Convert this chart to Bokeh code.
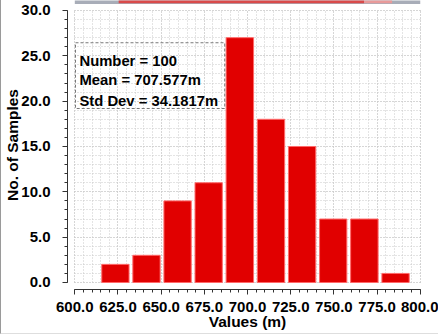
from bokeh.plotting import figure
from bokeh.models import (SingleIntervalTicker, NumeralTickFormatter, Label, Range1d)
from bokeh.embed import file_html
from bokeh.resources import INLINE

# ---- data ----
bin_edges = [614.5, 632.5, 650.5, 668.5, 686.5, 704.6, 722.6, 740.6, 758.6, 776.7, 794.7]
counts = [2, 3, 9, 11, 27, 18, 15, 7, 7, 1]
stats_lines = ["Number = 100", "Mean = 707.577m", "Std Dev = 34.1817m"]
x_label = "Values (m)"
y_label = "No. of Samples"

FONT = "Liberation Sans"
gap = 1.1  # half-gap between bars, data units

p = figure(width=438, height=334, output_backend="svg", toolbar_location=None,
           x_range=Range1d(595.77, 804.2), y_range=Range1d(-0.772, 31.1),
           min_border_left=65, min_border_right=12, min_border_top=0, min_border_bottom=45)
p.styles = {"border-left": "1px solid #9a9a9a", "border-bottom": "1px solid #dedede"}
p.outline_line_color = None
p.background_fill_color = "white"
p.border_fill_color = "white"

# cut-off element at the top
p.quad(left=[600], right=[800], bottom=[30.72], top=[31.2],
       fill_color="#a8adb8", line_color=None)
p.quad(left=[625.4], right=[767.5], bottom=[30.8], top=[31.2],
       fill_color="#d94a4a", line_color=None)
p.quad(left=[767.5], right=[783.7], bottom=[30.8], top=[31.2],
       fill_color="#e89a9a", line_color=None)

lefts = [bin_edges[i] + gap for i in range(len(counts))]
rights = [bin_edges[i + 1] - gap for i in range(len(counts))]
p.quad(left=lefts, right=rights, bottom=0, top=counts,
       fill_color="#e10000", line_color="#ff6a6a", line_width=1)

# axes
for ax, interval, bounds in ((p.xaxis, 25, (600, 800)), (p.yaxis, 5, (0, 30))):
    ax.ticker = SingleIntervalTicker(interval=interval, num_minor_ticks=5)
    ax.formatter = NumeralTickFormatter(format="0.0")
    ax.bounds = bounds
    ax.major_label_text_font = FONT
    ax.major_label_text_font_style = "bold"
    ax.major_label_text_font_size = "15px"
    ax.major_label_text_color = "black"
    ax.axis_label_text_font = FONT
    ax.axis_label_text_font_style = "bold"
    ax.axis_label_text_font_size = "15.5px"
    ax.axis_label_text_color = "black"
    ax.axis_line_color = "#333333"
    ax.major_tick_line_color = "#333333"
    ax.minor_tick_line_color = "#333333"
    ax.major_tick_out = 5
    ax.major_tick_in = 0
    ax.minor_tick_out = 3
    ax.minor_tick_in = 0

p.xaxis.axis_label = x_label
p.yaxis.axis_label = y_label
p.xaxis.major_label_standoff = 7
p.xaxis.axis_label_standoff = -2
p.yaxis.major_label_standoff = 12
p.yaxis.axis_label_standoff = -3

for g, cb in ((p.xgrid, (0, 30)), (p.ygrid, (600, 800))):
    g.grid_line_color = "#c8c8c8"
    g.grid_line_dash = "1 2"
    g.minor_grid_line_color = "#c8c8c8"
    g.minor_grid_line_dash = "1 2"
    try:
        g.cross_bounds = cb
    except AttributeError:
        pass

# stats box
p.quad(left=[600.4], right=[686.8], bottom=[19.19], top=[26.44],
       fill_alpha=0, line_color="#777777", line_dash="3 2", line_width=1)
for txt, yy in zip(stats_lines, [24.48, 22.28, 20.07]):
    p.add_layout(Label(x=602.7, y=yy, text=txt, text_font=FONT, text_font_style="bold",
                       text_font_size="14.8px", text_color="black", text_baseline="alphabetic"))

open("out.html", "w").write(file_html(p, INLINE))
